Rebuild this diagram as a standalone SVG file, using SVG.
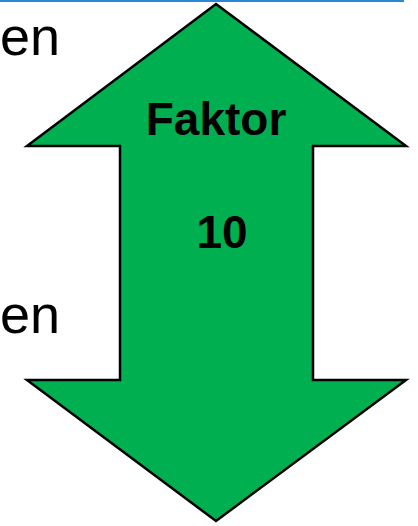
<svg xmlns="http://www.w3.org/2000/svg" width="418" height="526" viewBox="0 0 418 526">
  <style>
    .side { font-family: "Liberation Sans", Arial, sans-serif; font-size: 54px; fill: #000; }
    .label { font-family: "Liberation Sans", Arial, sans-serif; font-size: 46px; font-weight: bold; fill: #000; text-anchor: middle; }
  </style>
  <rect width="418" height="526" fill="#ffffff"/>
  <!-- top rule -->
  <rect x="0" y="0" width="404" height="2" fill="#2a86d8"/>
  <!-- side text -->
  <text class="side" x="0" y="55">en</text>
  <text class="side" x="0" y="333">en</text>
  <!-- double-headed arrow -->
  <g id="arrow">
    <polygon points="216,4 406,146 313,146 313,380 406,380 216,521 27,380 120,380 120,146 27,146"
             fill="#00b050" stroke="#000" stroke-width="2.5" stroke-linejoin="miter"/>
    <text class="label" x="216" y="135">Faktor</text>
    <text class="label" x="222" y="248">10</text>
  </g>
</svg>
